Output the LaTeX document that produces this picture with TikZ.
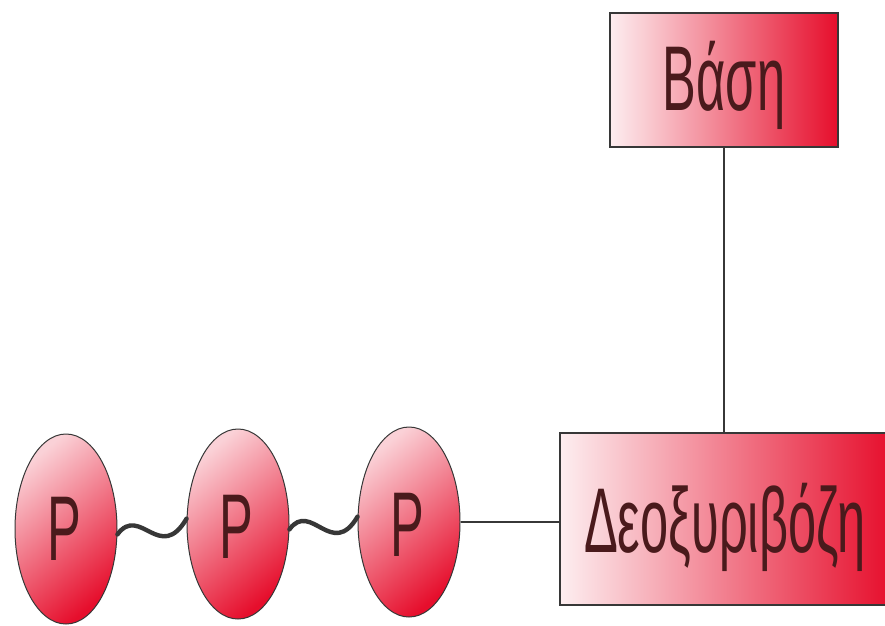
\documentclass[tikz,border=0pt]{standalone}
\usepackage{fontspec}
\newfontfamily\cond[FakeStretch=0.55]{Liberation Sans}
\usetikzlibrary{shapes.geometric}
\definecolor{dred}{RGB}{230,14,44}
\definecolor{mred}{RGB}{240,95,115}
\definecolor{pale}{RGB}{253,238,240}
\definecolor{ink}{RGB}{74,26,28}
\definecolor{linec}{RGB}{55,55,55}
\tikzset{
  boxnode/.style={draw=linec, line width=1.6pt, rectangle, left color=pale, middle color=mred, right color=dred, inner sep=0pt},
  pnode/.style={draw=linec, line width=1pt, ellipse, minimum width=102pt, minimum height=190pt, inner sep=0pt,
    shading=axis, left color=pale!80!mred, middle color=mred, right color=dred, shading angle=40},
  lbl/.style={text=ink, font=\cond\fontsize{92}{92}\selectfont, inner sep=0pt, anchor=base},
  wave/.style={draw=linec, line width=4.4pt, line cap=round},
  link/.style={draw=linec, line width=1.6pt}
}
\begin{document}
\begin{tikzpicture}[x=1pt,y=-1pt]
\useasboundingbox (0,0) rectangle (885,625);
\fill[white] (0,0) rectangle (885,625);
% boxes
\node[boxnode, minimum width=228pt, minimum height=134pt] (base) at (724,80) {};
\node[boxnode, minimum width=332pt, minimum height=172pt] (deoxy) at (726,519) {};
\node[lbl] (tbase) at (724,110) {Βάση};
\node[lbl] (tdeoxy) at (725,552) {Δεοξυριβόζη};
% phosphates
\node[pnode] (p1) at (66,529) {};
\node[pnode] (p2) at (238,524) {};
\node[pnode] (p3) at (409,522) {};
\node[lbl] (t1) at (64,560) {P};
\node[lbl] (t2) at (236,558) {P};
\node[lbl] (t3) at (407,556) {P};
% connectors
\draw[wave] (p1.-6) .. controls (140,504) and (160,564) .. (p2.-186);
\draw[wave] (p2.-6) .. controls (311,500) and (332,560) .. (p3.-186);
\draw[link] (p3.east) -- (p3.east -| deoxy.west);
\draw[link] (base.south) -- (base.south |- deoxy.north);
\end{tikzpicture}
\end{document}
